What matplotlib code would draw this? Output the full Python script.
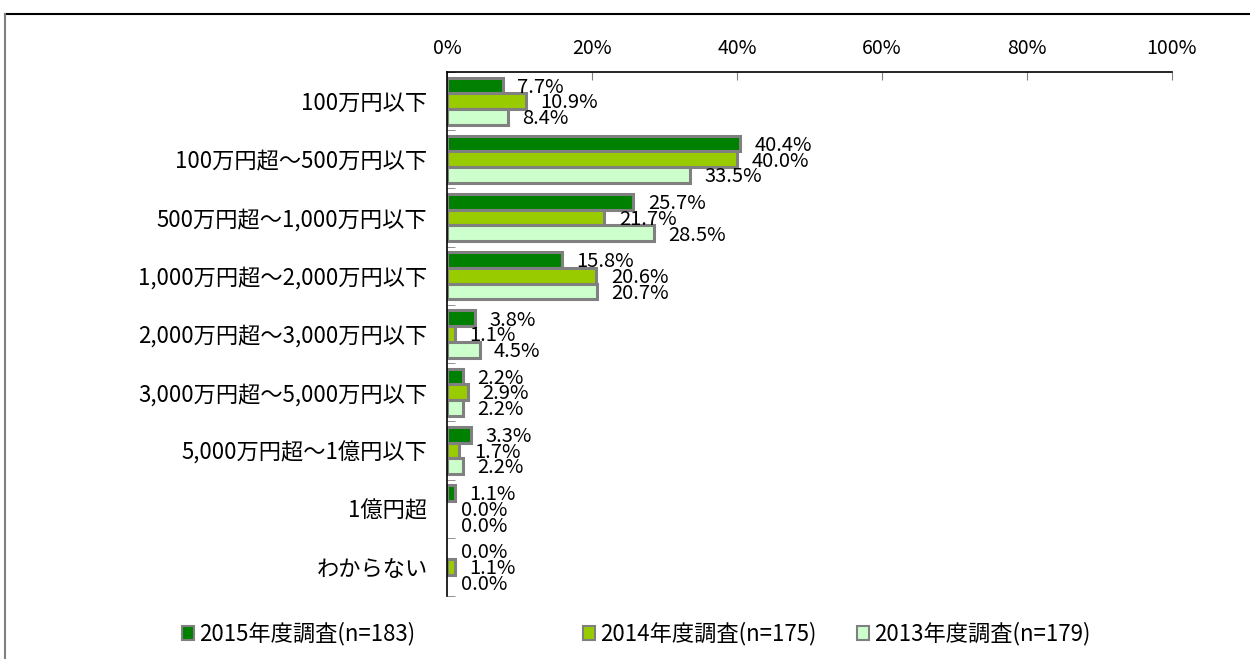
import matplotlib
matplotlib.use("Agg")
import matplotlib.pyplot as plt
from matplotlib.patches import Patch
from matplotlib.lines import Line2D
import numpy as np

plt.rcParams['font.family'] = ['Noto Sans CJK JP', 'DejaVu Sans']

categories = ["100万円以下", "100万円超～500万円以下", "500万円超～1,000万円以下",
              "1,000万円超～2,000万円以下", "2,000万円超～3,000万円以下",
              "3,000万円超～5,000万円以下", "5,000万円超～1億円以下", "1億円超", "わからない"]
series_names = ["2015年度調査(n=183)", "2014年度調査(n=175)", "2013年度調査(n=179)"]
v2015 = [7.7, 40.4, 25.7, 15.8, 3.8, 2.2, 3.3, 1.1, 0.0]
v2014 = [10.9, 40.0, 21.7, 20.6, 1.1, 2.9, 1.7, 0.0, 1.1]
v2013 = [8.4, 33.5, 28.5, 20.7, 4.5, 2.2, 2.2, 0.0, 0.0]
xticks = [0, 20, 40, 60, 80, 100]

colors = ["#008000", "#99CC00", "#CCFFCC"]
edge = "#808080"

fig = plt.figure(figsize=(12.5, 6.59), dpi=100)
ax = fig.add_axes([447/1250, 1-596/659, 725/1250, (596-72)/659])

series = [v2015, v2014, v2013]
y = np.arange(len(categories))
h = 0.27
offsets = [-h, 0, h]
for vals, col, off in zip(series, colors, offsets):
    for yi, v in zip(y, vals):
        ax.barh(yi + off, v, height=h, color=col, edgecolor=edge,
                linewidth=2.2 if v > 0 else 0)
        ax.text(v + 2.0, yi + off + 0.03, f"{v:.1f}%", ha='left', va='center',
                fontsize=14.5, color='black')

ax.set_xlim(0, 100)
ax.set_ylim(len(categories) - 0.5, -0.5)
ax.xaxis.tick_top()
ax.set_xticks(xticks)
ax.set_xticklabels([f"{t}%" for t in xticks], fontsize=14)
ax.tick_params(axis='x', direction='in', length=6, color=edge, pad=9)
ax.set_yticks(y)
ax.set_yticklabels(categories, fontsize=16)
ax.tick_params(axis='y', length=0, pad=14)
ax.set_yticks(np.arange(len(categories) + 1) - 0.5, minor=True)
ax.tick_params(axis='y', which='minor', direction='in', length=6, color=edge)
for s in ['right', 'bottom']:
    ax.spines[s].set_visible(False)
ax.spines['top'].set_color('black')
ax.spines['left'].set_color('black')
ax.spines['top'].set_linewidth(1.2)
ax.spines['left'].set_linewidth(1.2)

# figure frame (top & left)
fig.add_artist(Line2D([5/1250, 1], [1-14/659, 1-14/659], color='black', lw=1.5,
                      transform=fig.transFigure))
fig.add_artist(Line2D([5/1250, 5/1250], [0, 1-14/659], color='#808080', lw=1.5,
                      transform=fig.transFigure))

# legends
leg_x = [182, 583, 857]
for name, col, lx in zip(series_names, colors, leg_x):
    fig.legend(handles=[Patch(facecolor=col, edgecolor=edge, linewidth=1.5)],
               labels=[name], loc='center left',
               bbox_to_anchor=(lx/1250, 1-634/659), frameon=False,
               handlelength=0.55, handleheight=0.55, handletextpad=0.2,
               borderpad=0, borderaxespad=0, fontsize=16)

fig.savefig("out.png", dpi=100)
